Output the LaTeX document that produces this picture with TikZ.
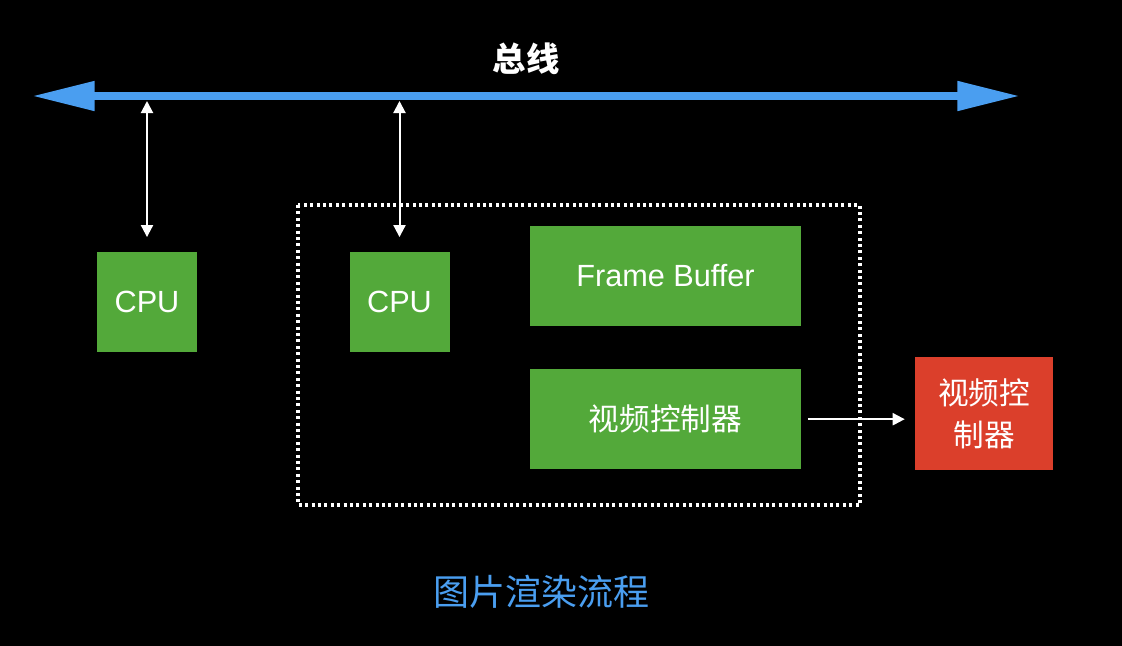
\documentclass[tikz,border=0pt]{standalone}
\usepackage{fontspec}
\setmainfont{Liberation Sans}
\newfontfamily\cjk{Noto Sans CJK SC}
\usetikzlibrary{positioning,arrows.meta}
\definecolor{busblue}{HTML}{4A9EF0}
\definecolor{chipgreen}{HTML}{53A93A}
\definecolor{chipred}{HTML}{DB3F2B}
\tikzstyle{chip} = [fill=chipgreen, text=white, inner sep=0pt, minimum height=75pt, font=\fontsize{23}{27}\selectfont]
\tikzstyle{link} = [white, line width=1.5pt, {Triangle[length=9pt,width=9pt]}-{Triangle[length=9pt,width=9pt]}]
\tikzstyle{feed} = [white, line width=1.5pt, -{Triangle[length=9pt,width=9pt]}]

\begin{document}
\begin{tikzpicture}[x=0.75pt,y=-0.75pt]
            \fill[black] (0,0) rectangle (1122,646);
            \useasboundingbox (0,0) rectangle (1122,646);
            % bus
            \coordinate (busL) at (32,96);
            \coordinate (busR) at (1020,96);
            \draw[busblue, line width=6pt, {Triangle[length=47pt,width=21pt]}-{Triangle[length=47pt,width=21pt]}] (busL) -- (busR);
            \node[white, font=\cjk\bfseries\fontsize{25}{30}\selectfont] (bus) at (526,59) {总线};
            % boxes
            \node[chip, minimum width=75pt] (cpu1) at (147,302) {CPU};
            \node[chip, minimum width=75pt] (cpu2) at (399.5,302) {CPU};
            \node[chip, minimum width=203pt] (fb) at (665.5,276) {Frame Buffer};
            \node[chip, minimum width=203pt, below=32pt of fb, font=\cjk\fontsize{23}{27}\selectfont] (vc) {视频控制器};
            \node[chip, fill=chipred, minimum width=103.5pt, minimum height=85pt, align=center,
                  font=\cjk\fontsize{23}{31.5}\selectfont] (disp) at (984,413.5) {视频控\\制器};
            \draw[white, line width=2.3pt, dash pattern=on 2.2pt off 2.6pt] (298,205) rectangle (860,505);
            % links
            \coordinate (tap1) at (147,101);
            \coordinate (tap2) at (399.5,101);
            \draw[link, shorten >=11pt] (tap1) -- (cpu1.north);
            \draw[link, shorten >=11pt] (tap2) -- (cpu2.north);
            \draw[feed, shorten <=5pt, shorten >=7.5pt] (vc.east) -- (disp.west |- vc.east);
            \node[busblue, font=\cjk\fontsize{27}{32}\selectfont] (title) at (541,592) {图片渲染流程};
\end{tikzpicture}
\end{document}
